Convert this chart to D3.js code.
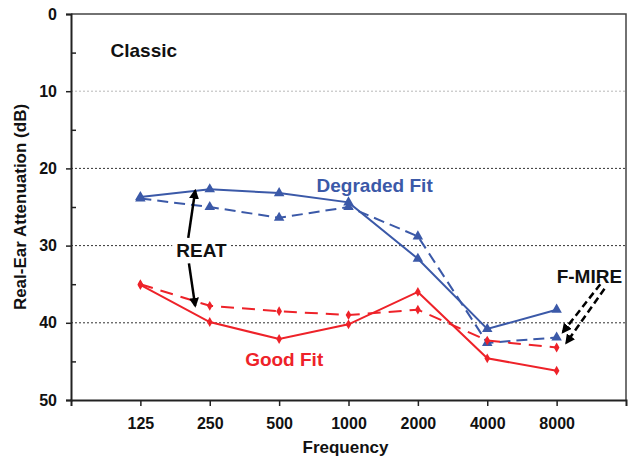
<!DOCTYPE html>
<html>
<head>
<meta charset="utf-8">
<script src="https://cdn.jsdelivr.net/npm/d3@7"></script>
<style>
  body { margin: 0; background: #fff; }
  text { font-family: "Liberation Sans", Arial, sans-serif; font-weight: bold; }
</style>
</head>
<body>
<div id="chart"></div>
<script>
// data
var frequencies = ["125", "250", "500", "1000", "2000", "4000", "8000"];
var degradedREAT  = [23.7, 22.7, 23.2, 24.4, 31.7, 40.8, 38.3];
var degradedFMIRE = [23.9, 25.0, 26.4, 25.0, 28.8, 42.6, 41.9];
var goodREAT      = [35.1, 39.9, 42.1, 40.2, 36.0, 44.6, 46.2];
var goodFMIRE     = [35.0, 37.8, 38.5, 39.0, 38.3, 42.3, 43.2];
var yTicks = [0, 10, 20, 30, 40, 50];
var yMinorTicks = [5, 15, 25, 35, 45];

var svgWidth = 629;
var svgHeight = 458;

var margin = { top: 14, right: 3, bottom: 58, left: 71 };

var width = svgWidth - margin.left - margin.right;
var height = svgHeight - margin.top - margin.bottom;

var blue = "#3b59a8";
var red = "#ee2229";

var svg = d3.select("#chart")
    .append("svg")
    .attr("width", svgWidth)
    .attr("height", svgHeight)
    .append("g")
    .attr("transform", "translate(" + margin.left + "," + margin.top + ")");

var x = d3.scalePoint()
    .domain(frequencies)
    .range([0, width])
    .padding(1);

// fractional category position, for the annotations
var xIdx = d3.scaleLinear()
    .domain([0, frequencies.length - 1])
    .range([x(frequencies[0]), x(frequencies[frequencies.length - 1])]);

var y = d3.scaleLinear()
    .domain([0, 50])
    .range([0, height]);

// gridlines
svg.append("g")
    .selectAll("line")
    .data([10, 20, 30, 40])
    .enter()
    .append("line")
    .attr("x1", 0)
    .attr("x2", width)
    .attr("y1", function(d) { return y(d); })
    .attr("y2", function(d) { return y(d); })
    .attr("stroke", function(d) { return d == 10 ? "#b8b8b8" : "#333"; })
    .attr("stroke-width", 1)
    .attr("stroke-dasharray", "2,2");

// frame top + right
svg.append("path")
    .attr("d", "M0,0H" + width + "V" + height)
    .attr("fill", "none")
    .attr("stroke", "#444")
    .attr("stroke-width", 1.5);

// axes
var leftAxis = d3.axisLeft(y).tickValues(yTicks).tickSize(5).tickPadding(9);
var yAxis = svg.append("g").call(leftAxis);
yAxis.select(".domain").attr("stroke", "#222").attr("stroke-width", 2);
yAxis.selectAll(".tick line").attr("stroke", "#222").attr("stroke-width", 1.5);
yAxis.selectAll("text")
    .style("font-size", "16px")
    .attr("fill", "#111");

var minorAxis = svg.append("g")
    .call(d3.axisRight(y).tickValues(yMinorTicks).tickSize(5).tickFormat(""));
minorAxis.select(".domain").remove();
minorAxis.selectAll(".tick line").attr("stroke", "#222").attr("stroke-width", 1.5);

var bottomAxis = d3.axisBottom(x).tickSize(6).tickPadding(12);
var xAxis = svg.append("g")
    .attr("transform", "translate(0," + height + ")")
    .call(bottomAxis);
xAxis.select(".domain").attr("stroke", "#222").attr("stroke-width", 2);
xAxis.selectAll(".tick line").attr("stroke", "#222").attr("stroke-width", 1.5);
xAxis.selectAll("text")
    .style("font-size", "16px")
    .attr("fill", "#111");

// series
var series = [
    { values: degradedREAT,  color: blue, dash: null,   symbol: d3.symbolTriangle, size: 48 },
    { values: degradedFMIRE, color: blue, dash: "11,6", symbol: d3.symbolTriangle, size: 48 },
    { values: goodREAT,      color: red,  dash: null,   symbol: d3.symbolDiamond,  size: 28 },
    { values: goodFMIRE,     color: red,  dash: "13,8", symbol: d3.symbolDiamond,  size: 28 }
];

var line = d3.line()
    .x(function(d, i) { return x(frequencies[i]); })
    .y(function(d) { return y(d); });

series.forEach(function(s) {
    svg.append("path")
        .datum(s.values)
        .attr("d", line)
        .attr("fill", "none")
        .attr("stroke", s.color)
        .attr("stroke-width", 2)
        .attr("stroke-dasharray", s.dash);

    svg.append("g")
        .selectAll("path")
        .data(s.values)
        .enter()
        .append("path")
        .attr("d", d3.symbol().type(s.symbol).size(s.size))
        .attr("transform", function(d, i) {
            return "translate(" + x(frequencies[i]) + "," + y(d) + ")";
        })
        .attr("fill", s.color);
});

// arrowheads
var defs = svg.append("defs");
defs.append("marker")
    .attr("id", "head")
    .attr("viewBox", "0 0 10 10")
    .attr("refX", 8)
    .attr("refY", 5)
    .attr("markerWidth", 4)
    .attr("markerHeight", 4)
    .attr("orient", "auto")
    .append("path")
    .attr("d", "M0,0L10,5L0,10z")
    .attr("fill", "#000");

function arrow(i1, v1, i2, v2, dash) {
    svg.append("line")
        .attr("x1", xIdx(i1)).attr("y1", y(v1))
        .attr("x2", xIdx(i2)).attr("y2", y(v2))
        .attr("stroke", "#000")
        .attr("stroke-width", 2.5)
        .attr("stroke-dasharray", dash)
        .attr("marker-end", "url(#head)");
}

// REAT arrows
arrow(0.69, 29.0, 0.79, 22.9, null);
arrow(0.70, 32.3, 0.79, 37.8, null);

// F-MIRE arrows
arrow(6.63, 35.0, 6.09, 41.2, "7,4");
arrow(6.69, 35.6, 6.14, 42.6, "7,4");

// labels
function label(txt, i, v, color, anchor) {
    return svg.append("text")
        .attr("x", xIdx(i))
        .attr("y", y(v))
        .attr("text-anchor", anchor || "start")
        .attr("fill", color)
        .style("font-size", "19px")
        .text(txt);
}

label("Classic", -0.43, 5.6, "#111");
label("Degraded Fit", 2.54, 23.1, blue);
label("Good Fit", 1.51, 45.6, red);

var reat = label("REAT", 0.88, 31.5, "#111", "middle");
var bb = reat.node().getBBox();
svg.insert("rect", function() { return reat.node(); })
    .attr("x", bb.x - 4)
    .attr("y", bb.y)
    .attr("width", bb.width + 8)
    .attr("height", bb.height)
    .attr("fill", "#fff");

label("F-MIRE", 6.0, 34.8, "#111");

// axis titles
svg.append("text")
    .attr("x", width / 2 - 3)
    .attr("y", height + 53)
    .attr("text-anchor", "middle")
    .attr("fill", "#111")
    .style("font-size", "17px")
    .text("Frequency");

svg.append("text")
    .attr("transform", "rotate(-90)")
    .attr("x", -height / 2)
    .attr("y", -margin.left + 26)
    .attr("text-anchor", "middle")
    .attr("fill", "#111")
    .style("font-size", "17px")
    .text("Real-Ear Attenuation (dB)");
</script>
</body>
</html>
